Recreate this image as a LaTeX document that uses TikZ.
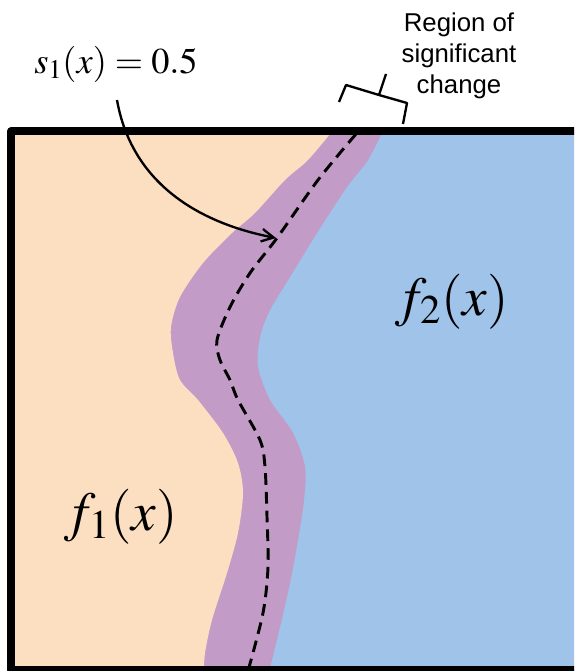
\documentclass[tikz,border=0pt]{standalone}
\usepackage{mathptmx}
\usepackage[no-math]{fontspec}
\setsansfont{Liberation Sans}
\usepackage{tikz}
\usetikzlibrary{arrows.meta}
\definecolor{regionPeach}{HTML}{FCDEC1}
\definecolor{regionBlue}{HTML}{9FC3E9}
\definecolor{regionPurple}{HTML}{C29BC7}

\begin{document}
\begin{tikzpicture}[
    x=0.03cm, y=-0.03cm,
    funclabel/.style={font=\fontsize{47}{50}\selectfont, inner sep=0pt, anchor=base},
    eqlabel/.style={font=\fontsize{31}{34}\selectfont, inner sep=0pt, anchor=base},
    note/.style={font=\sffamily\fontsize{22}{26.5}\selectfont, align=center, inner sep=0pt},
    plotframe/.style={line width=6pt, line join=round},
    contour/.style={line width=2.5pt, dash pattern=on 10pt off 6pt},
    pointer/.style={line width=2pt, -{Straight Barb[length=3.6mm, width=3.8mm]}},
    bracket/.style={line width=2pt, line join=round}
]
\clip (0,0) rectangle (574,671);

% the two classes and the band between them
\fill[regionBlue] (11,131) rectangle (590,672);
\fill[regionPurple] (11,128) -- plot[smooth] coordinates {(384,128) (368,160) (347,187) (317,233) (290,277) (270,310) (260,337) (258,367) (270,400) (293,433) (305,467) (304,500) (298,540) (290,583) (280,627) (269,672)} -- (11,672) -- cycle;
\fill[regionPeach] (11,128) -- plot[smooth] coordinates {(335,128) (308,160) (285,180) (255,213) (232,233) (203,263) (180,297) (171,327) (173,353) (180,380) (198,400) (223,433) (238,463) (243,493) (238,533) (227,573) (212,620) (205,653) (204,672)} -- (11,672) -- cycle;

% s_1(x) = 0.5
\draw[contour] plot[smooth] coordinates {(356,134) (318,180) (277,238) (250,273) (230,307) (217,340) (220,360) (230,380) (238,400) (260,440) (265,467) (267,517) (268,567) (263,613) (248,671)};
\coordinate (contourpt) at (276,238);

\draw[plotframe] (11,131) rectangle (590,670);

\node[eqlabel] (slabel) at (116,73) {$s_1(x) = 0.5$};
\coordinate (arrowstart) at (117,100);
\draw[pointer] (arrowstart) to[out=-80, in=169] (contourpt);

\node[funclabel] (fone) at (121,530) {$f_1(x)$};
\node[funclabel] (ftwo) at (452,315) {$f_2(x)$};

\node[note] (regiontext) at (459,56) {Region of\\significant\\change};
\draw[bracket] (339,102) -- (346,85) -- (379,95) -- (407,103) -- (403,124) (379,95) -- (386,74);

\end{tikzpicture}
\end{document}
